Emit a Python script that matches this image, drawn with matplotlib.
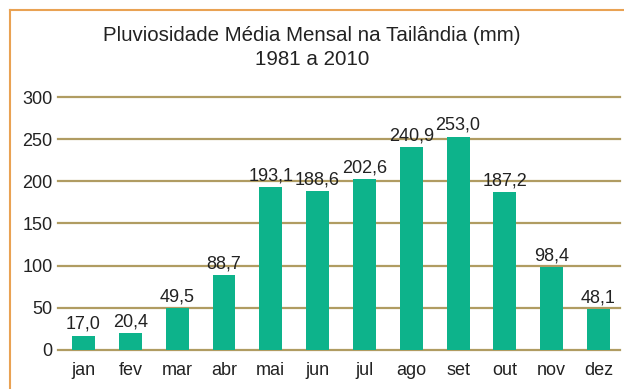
import matplotlib.pyplot as plt
from matplotlib.lines import Line2D

plt.rcParams['font.family'] = ['Liberation Sans', 'DejaVu Sans']

# Chuva média mensal (mm), 1981-2010
meses = ['jan', 'fev', 'mar', 'abr', 'mai', 'jun', 'jul', 'ago', 'set', 'out', 'nov', 'dez']
chuva = [17.0, 20.4, 49.5, 88.7, 193.1, 188.6, 202.6, 240.9, 253.0, 187.2, 98.4, 48.1]
yticks = [0, 50, 100, 150, 200, 250, 300]

BAR = '#0db38b'
GRID = '#b09c62'
FRAME = '#e9a253'
TXT = '#222222'

fig = plt.figure(figsize=(6.24, 3.89), dpi=100)
ax = fig.add_axes([0.093, 0.1003, 0.9006, 0.6503])

x = list(range(len(meses)))
for y in yticks:
    ax.axhline(y, color=GRID, lw=1.6, zorder=1, clip_on=False)

bars = ax.bar(x, chuva, width=0.49, color=BAR, zorder=2)
for b, v in zip(bars, chuva):
    ax.annotate(f'{v:.1f}'.replace('.', ','),
                (b.get_x() + b.get_width() / 2, v),
                xytext=(0, 2), textcoords='offset points',
                ha='center', va='bottom', fontsize=13, color=TXT)

ax.set_xlim(-0.545, 11.46)
ax.set_ylim(0, 300)
ax.set_xticks(x)
ax.set_xticklabels(meses)
ax.set_yticks(yticks)
ax.tick_params(length=0, labelsize=13, colors=TXT)
ax.tick_params(axis='y', pad=4)
ax.tick_params(axis='x', pad=9)
for s in ax.spines.values():
    s.set_visible(False)

fig.text(0.5, 0.9075, 'Pluviosidade Média Mensal na Tailândia (mm)',
         ha='center', va='center', fontsize=14.8, color=TXT)
fig.text(0.5, 0.848, '1981 a 2010',
         ha='center', va='center', fontsize=14.8, color=TXT)

# moldura laranja (topo e lateral esquerda)
fx = 9.5 / 624
fy = 1 - 9.5 / 389
fig.add_artist(Line2D([fx, 1], [fy, fy], color=FRAME, lw=1.5, transform=fig.transFigure))
fig.add_artist(Line2D([fx, fx], [0, fy], color=FRAME, lw=1.5, transform=fig.transFigure))

fig.savefig('out.png', dpi=100)
